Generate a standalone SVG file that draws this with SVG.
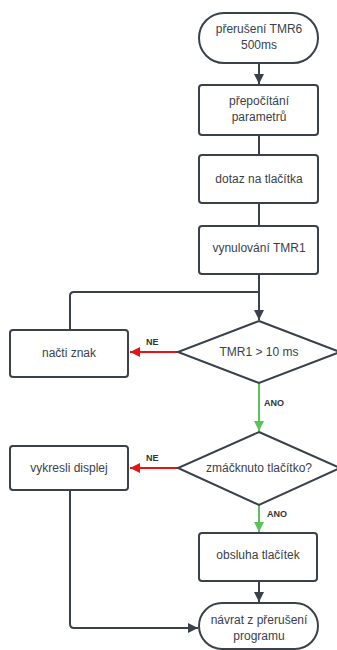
<svg xmlns="http://www.w3.org/2000/svg" width="337" height="650" viewBox="0 0 337 650">
<style>
.n{fill:#fff;stroke:#3a414a;stroke-width:2}
.t{font-family:"Liberation Sans",Arial,sans-serif;font-size:12px;fill:#3a414a;text-anchor:middle;dominant-baseline:central}
.l{font-family:"Liberation Sans",Arial,sans-serif;font-size:9px;font-weight:bold;fill:#333;dominant-baseline:central}
.c{fill:none;stroke:#3a414a;stroke-width:2}
.r{fill:none;stroke:#e81313;stroke-width:2}
.g{fill:none;stroke:#5ac35a;stroke-width:2}
</style>
<defs>
<marker id="ad" viewBox="0 0 10 10" refX="10" refY="5" markerWidth="5" markerHeight="5" orient="auto"><path d="M0,0L10,5L0,10z" fill="#3a414a"/></marker>
<marker id="ar" viewBox="0 0 10 10" refX="10" refY="5" markerWidth="5" markerHeight="5" orient="auto"><path d="M0,0L10,5L0,10z" fill="#e81313"/></marker>
<marker id="ag" viewBox="0 0 10 10" refX="10" refY="5" markerWidth="5" markerHeight="5" orient="auto"><path d="M0,0L10,5L0,10z" fill="#5ac35a"/></marker>
</defs>
<g id="connectors">
<path class="c" d="M259,63V84" marker-end="url(#ad)"/>
<path class="c" d="M259,135V155"/>
<path class="c" d="M259,203V226"/>
<path class="c" d="M259,274V320" marker-end="url(#ad)"/>
<path class="c" d="M70,330V296Q70,292 74,292H259"/>
<path class="r" d="M178,352H130" marker-end="url(#ar)"/>
<path class="g" d="M259,383V431" marker-end="url(#ag)"/>
<path class="r" d="M178,468H130" marker-end="url(#ar)"/>
<path class="g" d="M259,505V532" marker-end="url(#ag)"/>
<path class="c" d="M259,581V602" marker-end="url(#ad)"/>
<path class="c" d="M70,490V624Q70,628 74,628H198" marker-end="url(#ad)"/>
<text class="l" x="146" y="342">NE</text>
<text class="l" x="264" y="403">ANO</text>
<text class="l" x="146" y="458">NE</text>
<text class="l" x="267" y="514">ANO</text>
</g>
<g id="start">
<rect class="n" x="199" y="13" width="119" height="50" rx="25"/>
<text class="t" x="259" y="29">přerušení TMR6</text>
<text class="t" x="259" y="45">500ms</text>
</g>
<g id="prepocitani">
<rect class="n" x="199" y="85" width="119" height="50" rx="3"/>
<text class="t" x="259" y="101">přepočítání</text>
<text class="t" x="259" y="117">parametrů</text>
</g>
<g id="dotaz">
<rect class="n" x="199" y="155" width="119" height="48" rx="3"/>
<text class="t" x="259" y="179">dotaz na tlačítka</text>
</g>
<g id="vynulovani">
<rect class="n" x="199" y="226" width="119" height="48" rx="3"/>
<text class="t" x="259" y="248">vynulování TMR1</text>
</g>
<g id="tmr1">
<path class="n" d="M259,321L340,352L259,383L178,352Z"/>
<text class="t" x="259" y="352">TMR1 &gt; 10 ms</text>
</g>
<g id="nacti">
<rect class="n" x="10" y="330" width="118" height="47" rx="3"/>
<text class="t" x="69" y="353">načti znak</text>
</g>
<g id="zmacknuto">
<path class="n" d="M259,432L340,468L259,505L178,468Z"/>
<text class="t" x="259" y="468">zmáčknuto tlačítko?</text>
</g>
<g id="vykresli">
<rect class="n" x="10" y="446" width="118" height="44" rx="3"/>
<text class="t" x="69" y="468">vykresli displej</text>
</g>
<g id="obsluha">
<rect class="n" x="199" y="533" width="118" height="48" rx="3"/>
<text class="t" x="258" y="555">obsluha tlačítek</text>
</g>
<g id="navrat">
<rect class="n" x="199" y="603" width="119" height="46" rx="23"/>
<text class="t" x="259" y="620">návrat z přerušení</text>
<text class="t" x="259" y="636">programu</text>
</g>
</svg>
